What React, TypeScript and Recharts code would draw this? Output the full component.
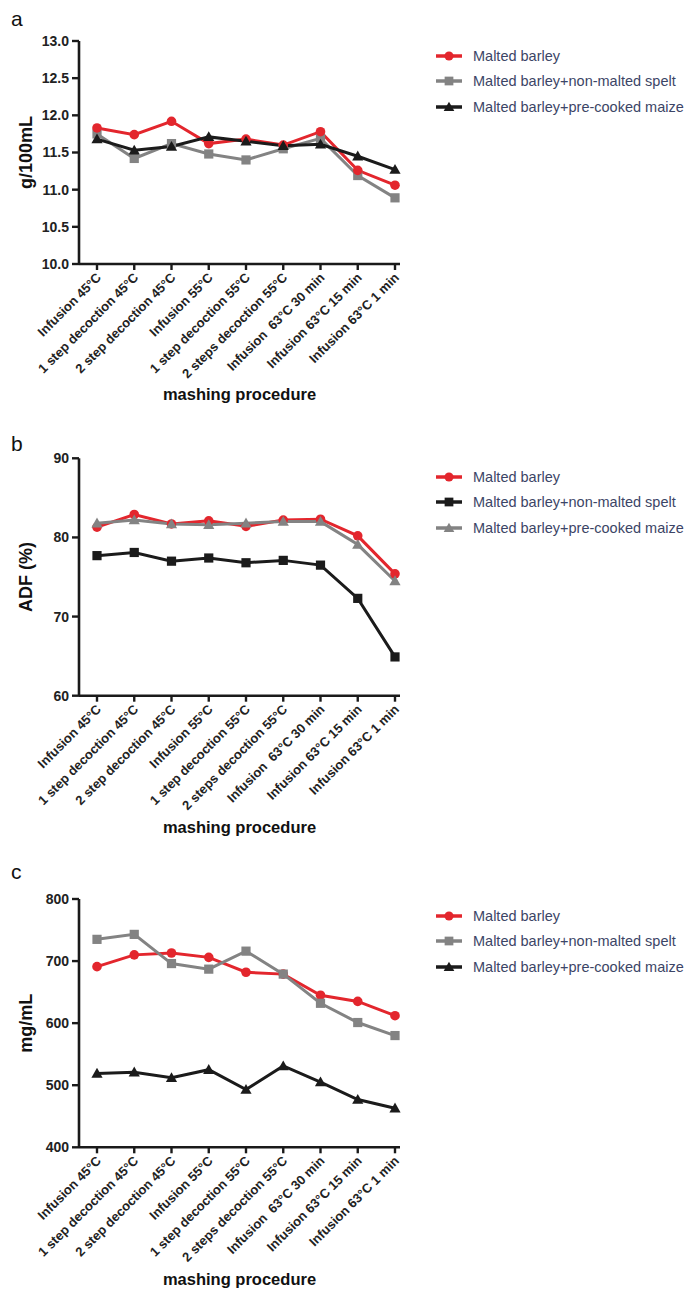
import React from 'react';
import { LineChart, Line, XAxis, YAxis, Legend } from 'recharts';

const FONT = '"Liberation Sans", Arial, Helvetica, sans-serif';

const categories = [
  'Infusion 45°C',
  '1 step decoction 45°C',
  '2 step decoction 45°C',
  'Infusion 55°C',
  '1 step decoction 55°C',
  '2 steps decoction 55°C',
  'Infusion  63°C 30 min',
  'Infusion 63°C 15 min',
  'Infusion 63°C 1 min',
];

// Panel a (g/100mL)
const aBarley = [11.83, 11.74, 11.92, 11.62, 11.68, 11.6, 11.78, 11.26, 11.06];
const aSpelt = [11.75, 11.42, 11.62, 11.48, 11.4, 11.55, 11.69, 11.19, 10.89];
const aMaize = [11.68, 11.53, 11.58, 11.71, 11.65, 11.59, 11.61, 11.45, 11.27];
const aTicks = [10, 10.5, 11, 11.5, 12, 12.5, 13];

// Panel b (ADF %)
const bBarley = [81.3, 82.9, 81.7, 82.1, 81.4, 82.2, 82.3, 80.2, 75.4];
const bSpelt = [77.7, 78.1, 77.0, 77.4, 76.8, 77.1, 76.5, 72.3, 64.9];
const bMaize = [81.8, 82.2, 81.7, 81.6, 81.8, 82.0, 82.0, 79.1, 74.5];
const bTicks = [60, 70, 80, 90];

// Panel c (mg/mL)
const cBarley = [691, 710, 713, 706, 682, 679, 645, 635, 612];
const cSpelt = [735, 743, 696, 687, 716, 679, 632, 601, 580];
const cMaize = [519, 521, 512, 525, 493, 531, 505, 477, 463];
const cTicks = [400, 500, 600, 700, 800];

const names = {
  barley: 'Malted barley',
  spelt: 'Malted barley+non-malted spelt',
  maize: 'Malted barley+pre-cooked maize',
};

const RED = '#e3262d';
const GRAY = '#838383';
const BLACK = '#1b1b1b';
const AXIS = '#1a1a1a';

type Shape = 'circle' | 'square' | 'triangle';
interface Series { key: string; name: string; color: string; shape: Shape; values: number[] }

const MarkerShape = ({ cx, cy, shape, color, scale = 1 }: { cx: number; cy: number; shape: Shape; color: string; scale?: number }) => {
  if (cx == null || cy == null || isNaN(cx) || isNaN(cy)) return null;
  if (shape === 'circle') return <circle cx={cx} cy={cy} r={4.8 * scale} fill={color} />;
  if (shape === 'square') {
    const h = 4.6 * scale;
    return <rect x={cx - h} y={cy - h} width={2 * h} height={2 * h} fill={color} />;
  }
  const s = 5.6 * scale;
  return <polygon points={`${cx},${cy - s} ${cx - s},${cy + s * 0.75} ${cx + s},${cy + s * 0.75}`} fill={color} />;
};

const XTick = (props: any) => {
  const { x, y, payload } = props;
  return (
    <g transform={`translate(${x},${y})`}>
      <text x={-1} y={0} dy={8} textAnchor="end" transform="rotate(-45)" fontSize={13} fontWeight="bold" fill="#222" fontFamily={FONT} style={{ whiteSpace: 'pre' }}>
        {payload.value}
      </text>
    </g>
  );
};

interface Cfg {
  letter: string;
  top: number;
  height: number;
  plotTop: number;
  plotHeight: number;
  domain: [number, number];
  ticks: number[];
  fmt: (v: number) => string;
  yTitle: string;
  xTitleBaseline: number;
  letterBaseline: number;
  legendTop: number;
  legendOrder: Series[];
  drawOrder: Series[];
}

const PLOT_LEFT = 79;
const PLOT_RIGHT = 400;
const W = 687;

const YTitle = ({ cfg }: { cfg: Cfg }) => {
  const cy = cfg.plotTop - cfg.top + cfg.plotHeight / 2;
  return (
    <g>
      <text x={11} y={cfg.letterBaseline - cfg.top} fontSize={21} fill="#111" fontFamily={FONT}>{cfg.letter}</text>
      <text x={26} y={cy} transform={`rotate(-90, 26, ${cy})`} textAnchor="middle" dominantBaseline="central" fontSize={18} fontWeight="bold" fill="#111" fontFamily={FONT}>
        {cfg.yTitle}
      </text>
    </g>
  );
};

const XTitle = ({ cfg }: { cfg: Cfg }) => (
  <text x={(PLOT_LEFT + PLOT_RIGHT) / 2} y={cfg.xTitleBaseline - cfg.top} textAnchor="middle" fontSize={16.5} fontWeight="bold" fill="#111" fontFamily={FONT}>
    mashing procedure
  </text>
);

const LegendBox = ({ series }: { series: Series[] }) => (
  <div style={{ fontFamily: FONT }}>
    {series.map((s) => (
      <div key={s.key} style={{ display: 'flex', alignItems: 'center', height: 25.5 }}>
        <svg width={30} height={14} style={{ marginRight: 10 }}>
          <line x1={3} y1={7} x2={29} y2={7} stroke={s.color} strokeWidth={3.5} />
          <MarkerShape cx={16} cy={7} shape={s.shape} color={s.color} scale={0.95} />
        </svg>
        <span style={{ fontSize: 14.5, color: '#3c4566', whiteSpace: 'nowrap' }}>{s.name}</span>
      </div>
    ))}
  </div>
);

const Panel = ({ cfg }: { cfg: Cfg }) => {
  const marginTop = cfg.plotTop - cfg.top;
  const xAxisHeight = cfg.height - marginTop - cfg.plotHeight;
  const data = categories.map((name, i) => {
    const row: any = { name };
    cfg.drawOrder.forEach((s) => { row[s.key] = s.values[i]; });
    return row;
  });
  return (
    <div style={{ position: 'absolute', left: 0, top: cfg.top, width: W, height: cfg.height }}>
      <LineChart width={W} height={cfg.height} data={data} margin={{ top: marginTop, right: W - PLOT_RIGHT, bottom: 0, left: PLOT_LEFT - 60 }}>
        <XAxis
          dataKey="name"
          interval={0}
          height={xAxisHeight}
          padding={{ left: 18, right: 5 }}
          tick={<XTick />}
          tickSize={6}
          axisLine={{ stroke: AXIS, strokeWidth: 2.6 }}
          tickLine={{ stroke: AXIS, strokeWidth: 2.4 }}
          label={<XTitle cfg={cfg} />}
        />
        <YAxis
          type="number"
          width={60}
          domain={cfg.domain}
          ticks={cfg.ticks}
          allowDataOverflow
          tickSize={7}
          tickMargin={3}
          tickFormatter={cfg.fmt}
          tick={{ fontSize: 14, fontWeight: 'bold', fill: '#222', fontFamily: FONT }}
          axisLine={{ stroke: AXIS, strokeWidth: 2.6 }}
          tickLine={{ stroke: AXIS, strokeWidth: 2.4 }}
          label={<YTitle cfg={cfg} />}
        />
        {cfg.drawOrder.map((s) => (
          <Line
            key={s.key}
            dataKey={s.key}
            name={s.name}
            stroke={s.color}
            strokeWidth={3}
            isAnimationActive={false}
            dot={(p: any) => <MarkerShape key={`${s.key}-${p.index}`} cx={p.cx} cy={p.cy} shape={s.shape} color={s.color} />}
            activeDot={false}
          />
        ))}
        <Legend
          layout="vertical"
          align="center"
          verticalAlign="middle"
          wrapperStyle={{ left: 433, top: cfg.legendTop - cfg.top, width: 254 }}
          content={() => <LegendBox series={cfg.legendOrder} />}
        />
      </LineChart>
    </div>
  );
};

const sA = {
  barley: { key: 'barley', name: names.barley, color: RED, shape: 'circle' as Shape, values: aBarley },
  spelt: { key: 'spelt', name: names.spelt, color: GRAY, shape: 'square' as Shape, values: aSpelt },
  maize: { key: 'maize', name: names.maize, color: BLACK, shape: 'triangle' as Shape, values: aMaize },
};
const sB = {
  barley: { key: 'barley', name: names.barley, color: RED, shape: 'circle' as Shape, values: bBarley },
  spelt: { key: 'spelt', name: names.spelt, color: BLACK, shape: 'square' as Shape, values: bSpelt },
  maize: { key: 'maize', name: names.maize, color: GRAY, shape: 'triangle' as Shape, values: bMaize },
};
const sC = {
  barley: { key: 'barley', name: names.barley, color: RED, shape: 'circle' as Shape, values: cBarley },
  spelt: { key: 'spelt', name: names.spelt, color: GRAY, shape: 'square' as Shape, values: cSpelt },
  maize: { key: 'maize', name: names.maize, color: BLACK, shape: 'triangle' as Shape, values: cMaize },
};

const panels: Cfg[] = [
  {
    letter: 'a', top: 0, height: 430, plotTop: 41, plotHeight: 223,
    domain: [10, 13], ticks: aTicks, fmt: (v) => v.toFixed(1), yTitle: 'g/100mL',
    xTitleBaseline: 400, letterBaseline: 26, legendTop: 43,
    legendOrder: [sA.barley, sA.spelt, sA.maize], drawOrder: [sA.spelt, sA.barley, sA.maize],
  },
  {
    letter: 'b', top: 430, height: 430, plotTop: 458.3, plotHeight: 237.4,
    domain: [60, 90], ticks: bTicks, fmt: (v) => String(v), yTitle: 'ADF (%)',
    xTitleBaseline: 833, letterBaseline: 451, legendTop: 464,
    legendOrder: [sB.barley, sB.spelt, sB.maize], drawOrder: [sB.barley, sB.maize, sB.spelt],
  },
  {
    letter: 'c', top: 860, height: 430, plotTop: 899, plotHeight: 248.3,
    domain: [400, 800], ticks: cTicks, fmt: (v) => String(v), yTitle: 'mg/mL',
    xTitleBaseline: 1285, letterBaseline: 879, legendTop: 903,
    legendOrder: [sC.barley, sC.spelt, sC.maize], drawOrder: [sC.barley, sC.spelt, sC.maize],
  },
];

export default function App() {
  return (
    <div style={{ position: 'absolute', left: 0, top: 0, width: W, height: 1290, background: '#fff', overflow: 'hidden' }}>
      {panels.map((cfg) => (
        <Panel key={cfg.letter} cfg={cfg} />
      ))}
    </div>
  );
}
